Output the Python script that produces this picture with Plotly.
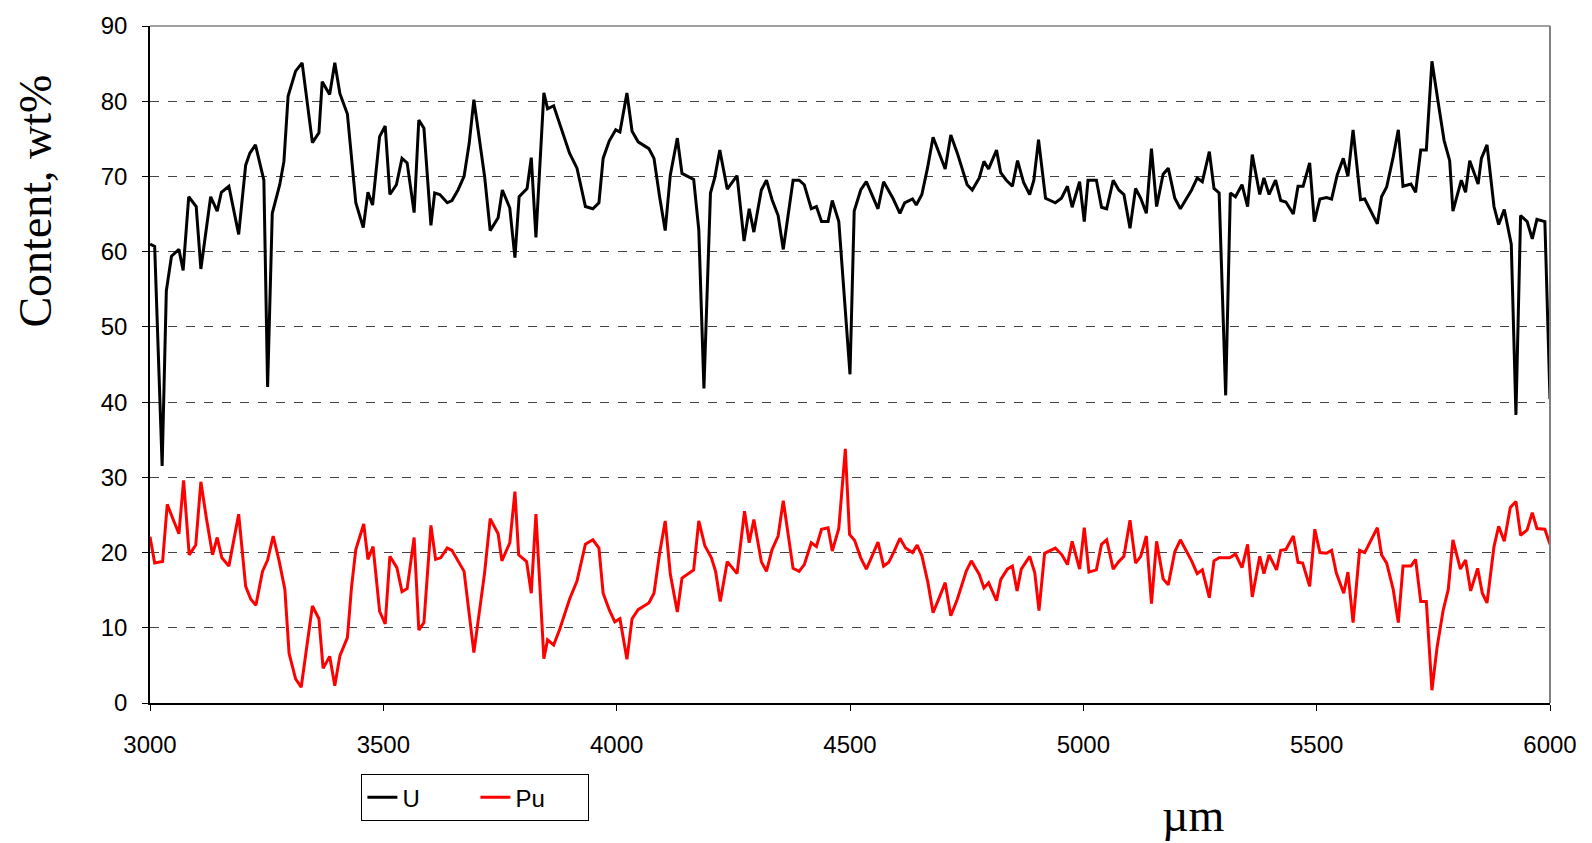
import plotly.graph_objects as go

# ---- U series (µm, wt%) ----
u_x = [3000, 3010, 3026, 3035, 3046, 3062, 3071, 3083, 3099, 3109, 3130, 3144, 3153, 3169, 3190,
       3205, 3214, 3226, 3244, 3252, 3262, 3278, 3287, 3296, 3312, 3326, 3348, 3362, 3369, 3385,
       3396, 3407, 3423, 3441, 3457, 3467, 3477, 3492, 3504, 3514, 3528, 3540, 3551, 3566, 3576,
       3587, 3602, 3610, 3621, 3637, 3647, 3660, 3673, 3684, 3694, 3717, 3729, 3746, 3755, 3771,
       3782, 3791, 3808, 3817, 3827, 3844, 3852, 3865, 3899, 3915, 3933, 3949, 3962, 3971, 3984,
       3998, 4007, 4022, 4033, 4046, 4069, 4080, 4092, 4104, 4115, 4130, 4140, 4165, 4176, 4187,
       4201, 4210, 4221, 4237, 4258, 4273, 4284, 4294, 4310, 4321, 4333, 4346, 4357, 4378, 4391,
       4402, 4417, 4428, 4439, 4453, 4462, 4476, 4500, 4509, 4523, 4535, 4560, 4572, 4592, 4607,
       4617, 4634, 4642, 4654, 4666, 4678, 4704, 4716, 4730, 4751, 4762, 4777, 4787, 4797, 4814,
       4823, 4835, 4848, 4859, 4872, 4885, 4894, 4904, 4919, 4940, 4953, 4966, 4976, 4992, 5002,
       5010, 5028, 5039, 5050, 5064, 5076, 5087, 5100, 5112, 5123, 5135, 5146, 5157, 5171, 5182,
       5196, 5208, 5219, 5232, 5244, 5255, 5270, 5280, 5291, 5305, 5315, 5326, 5340, 5352, 5362,
       5378, 5387, 5398, 5412, 5423, 5434, 5450, 5460, 5471, 5485, 5495, 5507, 5521, 5532, 5544,
       5557, 5567, 5578, 5594, 5603, 5616, 5630, 5639, 5650, 5664, 5675, 5685, 5702, 5712, 5723,
       5735, 5747, 5762, 5773, 5785, 5792, 5810, 5819, 5828, 5846, 5853, 5865, 5880, 5890, 5902,
       5917, 5927, 5937, 5951, 5962, 5972, 5989, 6000]
u_y = [61.0, 60.7, 31.5, 54.8, 59.4, 60.3, 57.5, 67.3, 66.0, 57.7, 67.3, 65.4, 67.9, 68.7, 62.3,
       71.5, 73.1, 74.2, 69.5, 42.0, 65.1, 68.9, 72.0, 80.7, 84.0, 85.1, 74.5, 75.8, 82.6, 80.9,
       85.1, 81.0, 78.3, 66.5, 63.2, 67.9, 66.2, 75.3, 76.7, 67.6, 68.9, 72.4, 71.8, 65.2, 77.5,
       76.4, 63.5, 67.8, 67.6, 66.5, 66.8, 68.2, 70.0, 74.4, 80.2, 70.0, 62.8, 64.5, 68.2, 65.8,
       59.2, 67.3, 68.4, 72.5, 61.9, 81.1, 79.0, 79.4, 73.1, 71.1, 66.0, 65.7, 66.5, 72.4, 74.7,
       76.2, 75.9, 81.1, 76.0, 74.6, 73.7, 72.4, 67.3, 62.8, 70.2, 75.1, 70.4, 69.6, 62.9, 41.8,
       67.8, 69.8, 73.5, 68.3, 70.1, 61.4, 65.7, 62.6, 68.2, 69.5, 66.9, 64.8, 60.3, 69.5, 69.5,
       68.9, 65.7, 66.0, 64.0, 64.0, 66.8, 64.0, 43.7, 65.4, 68.2, 69.3, 65.7, 69.3, 67.1, 65.1,
       66.5, 67.0, 66.2, 67.6, 71.1, 75.2, 71.0, 75.5, 73.1, 68.9, 68.2, 69.8, 72.0, 71.0, 73.5,
       70.5, 69.5, 68.7, 72.1, 69.2, 67.6, 69.5, 74.9, 67.1, 66.5, 67.1, 68.7, 65.9, 69.3, 64.0,
       69.5, 69.5, 65.9, 65.7, 69.5, 68.2, 67.6, 63.1, 68.4, 67.1, 65.1, 73.7, 66.0, 70.3, 71.1,
       67.1, 65.7, 66.9, 68.2, 69.8, 69.3, 73.3, 68.4, 67.8, 40.9, 67.8, 67.3, 68.9, 66.0, 72.9,
       67.6, 69.8, 67.6, 69.5, 66.8, 66.6, 65.0, 68.7, 68.7, 71.8, 64.0, 67.0, 67.2, 67.0, 70.2,
       72.4, 70.0, 76.2, 66.9, 67.0, 65.4, 63.7, 67.3, 68.6, 72.6, 76.2, 68.7, 69.0, 67.9, 73.5,
       73.5, 85.3, 79.2, 74.8, 72.1, 65.4, 69.5, 67.9, 72.1, 69.0, 72.4, 74.2, 66.0, 63.6, 65.6,
       61.0, 38.3, 64.8, 64.0, 61.7, 64.3, 64.0, 40.4]

# ---- Pu series (µm, wt%) ----
pu_x = [3000, 3010, 3027, 3037, 3049, 3062, 3072, 3084, 3098, 3109, 3121, 3134, 3144, 3154, 3169,
        3180, 3190, 3205, 3216, 3227, 3241, 3252, 3264, 3277, 3289, 3298, 3312, 3324, 3337, 3348,
        3362, 3371, 3385, 3396, 3407, 3423, 3432, 3441, 3458, 3467, 3478, 3492, 3504, 3514, 3529,
        3540, 3551, 3566, 3576, 3587, 3602, 3612, 3623, 3637, 3647, 3660, 3673, 3694, 3717, 3729,
        3746, 3754, 3771, 3782, 3790, 3807, 3817, 3827, 3844, 3852, 3865, 3878, 3899, 3915, 3933,
        3949, 3962, 3971, 3984, 3996, 4007, 4022, 4033, 4046, 4069, 4080, 4092, 4104, 4115, 4130,
        4140, 4165, 4176, 4189, 4203, 4212, 4222, 4237, 4258, 4274, 4284, 4294, 4310, 4321, 4333,
        4346, 4357, 4378, 4391, 4402, 4417, 4428, 4439, 4453, 4462, 4476, 4490, 4499, 4510, 4523,
        4535, 4547, 4560, 4572, 4583, 4594, 4607, 4619, 4634, 4644, 4654, 4667, 4678, 4690, 4704,
        4716, 4730, 4749, 4760, 4777, 4787, 4797, 4814, 4823, 4837, 4848, 4858, 4867, 4885, 4896,
        4905, 4917, 4940, 4954, 4966, 4976, 4992, 5002, 5012, 5028, 5039, 5050, 5064, 5076, 5087,
        5100, 5112, 5123, 5135, 5146, 5157, 5171, 5182, 5196, 5208, 5219, 5232, 5244, 5255, 5270,
        5280, 5291, 5314, 5326, 5340, 5352, 5362, 5378, 5387, 5398, 5414, 5423, 5434, 5450, 5460,
        5470, 5485, 5496, 5507, 5521, 5532, 5542, 5558, 5567, 5578, 5592, 5603, 5630, 5639, 5650,
        5664, 5675, 5685, 5702, 5712, 5723, 5735, 5747, 5758, 5771, 5782, 5792, 5808, 5819, 5830,
        5845, 5855, 5865, 5880, 5890, 5902, 5915, 5927, 5937, 5951, 5962, 5972, 5989, 6000]
pu_y = [22.1, 18.6, 18.8, 26.4, 24.5, 22.5, 29.6, 19.7, 21.0, 29.4, 24.5, 19.7, 22.0, 19.3, 18.2,
        22.1, 25.1, 15.5, 13.8, 13.0, 17.5, 19.0, 22.2, 18.8, 15.1, 6.6, 3.2, 2.1, 7.6, 12.9,
        11.2, 4.6, 6.2, 2.3, 6.3, 8.7, 15.5, 20.4, 23.8, 19.1, 20.8, 12.2, 10.5, 19.5, 18.0,
        14.8, 15.2, 22.0, 9.7, 10.7, 23.6, 19.1, 19.3, 20.6, 20.3, 18.9, 17.5, 6.7, 17.3, 24.5,
        22.5, 18.9, 21.3, 28.1, 19.7, 18.8, 14.6, 25.1, 5.9, 8.4, 7.7, 9.8, 13.8, 16.2, 21.1,
        21.7, 20.6, 14.6, 12.4, 10.8, 11.2, 5.8, 11.2, 12.4, 13.3, 14.6, 19.9, 24.2, 17.1, 12.1,
        16.6, 17.7, 24.2, 20.9, 19.3, 17.5, 13.5, 18.8, 17.2, 25.5, 21.3, 24.4, 18.8, 17.5, 20.4,
        22.2, 26.9, 17.9, 17.5, 18.4, 21.3, 20.8, 23.1, 23.3, 20.2, 23.2, 33.8, 22.4, 21.6, 19.3,
        17.8, 19.5, 21.4, 18.2, 18.7, 20.1, 21.9, 20.6, 20.0, 21.0, 19.6, 16.0, 12.0, 13.8, 16.0,
        11.6, 13.8, 17.5, 18.9, 17.1, 15.3, 16.0, 13.6, 16.4, 17.8, 18.2, 14.9, 17.8, 19.5, 17.3,
        12.3, 19.9, 20.6, 19.7, 18.4, 21.5, 17.8, 23.3, 17.4, 17.7, 21.1, 21.7, 17.8, 18.8, 19.5,
        24.3, 18.6, 19.5, 22.2, 13.2, 21.5, 16.5, 15.7, 20.1, 21.7, 20.4, 18.9, 17.2, 17.7, 14.0,
        18.9, 19.3, 19.3, 19.8, 18.0, 21.1, 14.1, 19.5, 17.2, 19.7, 17.7, 20.3, 20.4, 22.2, 18.7,
        18.6, 15.5, 23.1, 20.0, 19.9, 20.3, 17.3, 14.6, 17.4, 10.7, 20.3, 20.0, 23.3, 19.7, 18.6,
        15.1, 10.7, 18.2, 18.2, 19.1, 13.5, 13.5, 1.7, 7.4, 12.3, 15.1, 21.7, 17.8, 19.0, 14.9,
        17.9, 14.6, 13.3, 20.8, 23.5, 21.5, 26.0, 26.8, 22.3, 23.0, 25.3, 23.2, 23.1, 21.1]

x_ticks = [3000, 3500, 4000, 4500, 5000, 5500, 6000]
y_ticks = [0, 10, 20, 30, 40, 50, 60, 70, 80, 90]

fig = go.Figure()
fig.add_trace(go.Scatter(x=u_x, y=u_y, mode="lines", name="U",
                         line=dict(color="black", width=3)))
fig.add_trace(go.Scatter(x=pu_x, y=pu_y, mode="lines", name="Pu",
                         line=dict(color="#ff0000", width=3)))

fig.update_layout(
    width=1592, height=843,
    margin=dict(l=150, r=42, t=20, b=140),
    paper_bgcolor="white", plot_bgcolor="white",
    font=dict(family="Arial, Liberation Sans, sans-serif", size=24, color="black"),
    showlegend=True,
    legend=dict(orientation="h", x=0.151, y=-0.105, xanchor="left", yanchor="top",
                bordercolor="black", borderwidth=1, bgcolor="white",
                font=dict(family="Arial, Liberation Sans, sans-serif", size=24),
                entrywidth=68, entrywidthmode="pixels", tracegroupgap=0),
)

fig.update_xaxes(range=[3000, 6000], tickvals=x_ticks, ticktext=[str(v) for v in x_ticks],
                 showgrid=False, zeroline=False, showline=True, linecolor="black", linewidth=1.5,
                 ticks="outside", ticklen=6, tickcolor="black", ticklabelstandoff=13,
                 tickfont=dict(size=24))
fig.update_yaxes(range=[0, 90], tickvals=y_ticks, ticktext=[str(v) for v in y_ticks],
                 showgrid=True, gridcolor="#444444", griddash="dash", gridwidth=1,
                 zeroline=False, showline=True, linecolor="black", linewidth=1.5,
                 ticks="outside", ticklen=6, tickcolor="black", ticklabelstandoff=10,
                 tickfont=dict(size=24))

# plot-area border on top and right
fig.add_shape(type="line", xref="paper", yref="paper", x0=0, x1=1, y0=1, y1=1,
              line=dict(color="#808080", width=1.5))
fig.add_shape(type="line", xref="paper", yref="paper", x0=1, x1=1, y0=0, y1=1,
              line=dict(color="#808080", width=2))

# axis titles
fig.add_annotation(text="Content, wt%", xref="paper", yref="paper",
                   x=-0.0815, y=0.742, textangle=-90,
                   xanchor="center", yanchor="middle", showarrow=False,
                   font=dict(family="Times New Roman, Liberation Serif, serif", size=46, color="black"))
fig.add_annotation(text="µm", xref="paper", yref="paper", x=0.745, y=-0.125,
                   xanchor="center", yanchor="top", showarrow=False,
                   font=dict(family="Times New Roman, Liberation Serif, serif", size=46, color="black"))

fig.write_html("out.html")
